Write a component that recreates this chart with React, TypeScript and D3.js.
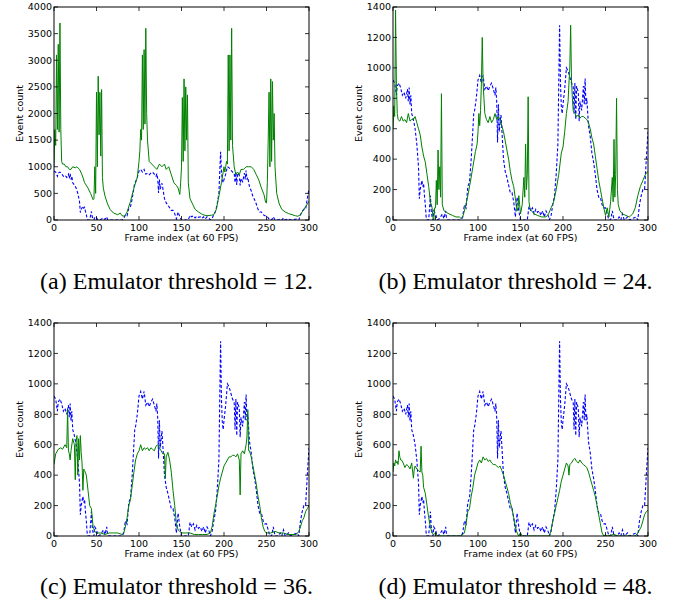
import React from "react";
import * as d3 from "d3";

type Pt = [number, number];

// reference (blue dashed) event counts per frame, shared by every panel
const referenceCounts: Pt[] = [
  [0, 920], [2, 900], [4, 820], [5, 880], [7, 900], [9, 870], [11, 820], [13, 840], [15, 800],
  [17, 860], [18, 780], [19, 870], [20, 760], [21, 820], [22, 700], [24, 660], [26, 600], [28, 500],
  [30, 350], [31, 140], [32, 200], [34, 260], [35, 220], [36, 240], [37, 160], [38, 100], [39, 20],
  [40, 0], [42, 0], [44, 160], [45, 60], [46, 20], [47, 0], [48, 60], [50, 40], [52, 0], [55, 10],
  [58, 40], [60, 10], [62, 60], [63, 10], [65, 0], [70, 0], [75, 0], [80, 0], [82, 20], [84, 100],
  [86, 80], [88, 220], [90, 250], [92, 400], [94, 600], [95, 700], [96, 720], [98, 800], [100, 920],
  [102, 950], [104, 900], [106, 950], [108, 860], [110, 880], [112, 850], [114, 880], [116, 900],
  [118, 860], [120, 820], [121, 870], [122, 780], [123, 510], [124, 760], [125, 580], [127, 690],
  [128, 600], [130, 400], [132, 320], [134, 280], [136, 230], [138, 180], [140, 180], [142, 120],
  [144, 20], [146, 150], [148, 60], [150, 0], [155, 0], [158, 0], [160, 90], [162, 60], [164, 80],
  [166, 40], [168, 70], [170, 50], [172, 60], [174, 30], [176, 60], [178, 20], [180, 60], [182, 40],
  [184, 0], [186, 30], [188, 100], [190, 160], [192, 300], [194, 500], [195, 900], [196, 1280],
  [197, 900], [198, 750], [199, 700], [200, 760], [202, 860], [204, 1000], [206, 980], [208, 940],
  [210, 900], [212, 880], [213, 700], [214, 900], [215, 660], [216, 880], [218, 840], [219, 650],
  [220, 780], [222, 720], [224, 880], [225, 760], [226, 930], [227, 760], [228, 800], [230, 620],
  [232, 550], [234, 440], [236, 380], [238, 300], [240, 200], [242, 150], [244, 150], [246, 100],
  [248, 80], [250, 80], [252, 40], [254, 0], [256, 0], [258, 60], [260, 0], [264, 0], [266, 20],
  [268, 0], [270, 40], [272, 0], [276, 20], [278, 0], [286, 20], [288, 0], [290, 100], [292, 160],
  [294, 200], [296, 200], [298, 400], [300, 580],
];

// emulator output (green), threshold = 12
const emulated12: Pt[] = [
  [0, 1000], [1, 1700], [2, 1400], [3, 3100], [4, 1700], [5, 3300], [6, 1650], [7, 3700], [8, 1700],
  [9, 1100], [10, 1050], [12, 1050], [14, 1000], [16, 1000], [18, 950], [20, 950], [22, 1000],
  [25, 980], [27, 1000], [30, 950], [33, 850], [36, 700], [40, 600], [43, 500], [46, 380], [47, 400],
  [48, 1000], [49, 500], [50, 2400], [51, 1000], [52, 2700], [53, 1600], [54, 2400], [55, 1200],
  [56, 2450], [57, 800], [58, 600], [60, 450], [63, 300], [66, 200], [70, 130], [75, 100], [78, 130],
  [80, 80], [83, 70], [86, 150], [90, 350], [94, 600], [98, 800], [100, 1100], [101, 1300],
  [102, 1700], [103, 1500], [104, 3100], [105, 1700], [106, 3200], [107, 1800], [108, 3600],
  [109, 2000], [110, 1500], [112, 1100], [115, 1050], [118, 1000], [121, 950], [124, 1050],
  [127, 1000], [130, 1050], [132, 950], [135, 1000], [138, 850], [141, 700], [144, 650], [146, 600],
  [148, 480], [149, 700], [150, 1000], [151, 2300], [152, 1100], [153, 2650], [154, 1300],
  [155, 2500], [156, 1500], [157, 2350], [158, 700], [160, 400], [163, 300], [166, 200], [170, 150],
  [175, 100], [180, 80], [185, 90], [188, 100], [191, 200], [194, 450], [197, 700], [199, 900],
  [200, 1000], [201, 900], [202, 1000], [203, 1100], [204, 1050], [205, 3100], [206, 1300],
  [207, 3100], [208, 1500], [209, 3600], [210, 1400], [212, 1000], [214, 850], [216, 900], [218, 850],
  [220, 950], [223, 950], [226, 1000], [229, 1000], [232, 1000], [235, 950], [238, 850], [241, 750],
  [244, 600], [247, 480], [249, 330], [250, 320], [251, 700], [252, 1500], [253, 2400], [254, 1000],
  [255, 2650], [256, 1100], [257, 2600], [258, 1500], [259, 2000], [260, 1000], [262, 500],
  [265, 300], [268, 200], [272, 150], [276, 120], [280, 100], [284, 80], [287, 70], [290, 100],
  [293, 180], [296, 250], [300, 350],
];

// threshold = 24
const emulated24: Pt[] = [
  [0, 600], [1, 750], [2, 680], [3, 1380], [4, 900], [5, 700], [6, 660], [8, 650], [10, 680],
  [12, 650], [14, 660], [16, 640], [18, 700], [20, 650], [22, 660], [24, 660], [26, 680], [28, 640],
  [30, 600], [32, 560], [34, 480], [36, 420], [38, 380], [40, 300], [42, 220], [44, 120], [46, 80],
  [47, 20], [48, 0], [49, 80], [50, 80], [51, 260], [52, 100], [53, 460], [54, 200], [55, 350],
  [56, 150], [57, 830], [58, 100], [60, 60], [63, 50], [66, 40], [70, 30], [74, 20], [78, 20],
  [80, 10], [82, 20], [85, 80], [88, 160], [91, 250], [94, 350], [97, 450], [99, 500], [100, 580],
  [101, 700], [102, 620], [103, 720], [104, 900], [105, 1200], [106, 900], [107, 800], [108, 700],
  [110, 660], [112, 640], [114, 680], [116, 640], [118, 660], [120, 700], [122, 660], [124, 680],
  [126, 660], [128, 620], [130, 580], [132, 520], [134, 460], [136, 400], [138, 320], [140, 260],
  [142, 220], [144, 140], [146, 60], [147, 80], [148, 160], [149, 100], [150, 40], [152, 100],
  [154, 280], [155, 150], [156, 500], [157, 200], [158, 300], [159, 810], [160, 120], [161, 80],
  [163, 60], [166, 40], [170, 30], [175, 20], [180, 20], [183, 40], [186, 80], [189, 120], [192, 200],
  [195, 300], [198, 440], [200, 480], [202, 580], [204, 700], [206, 780], [207, 900], [208, 1000],
  [209, 1280], [210, 920], [211, 800], [212, 720], [214, 700], [216, 680], [218, 690], [220, 670],
  [222, 680], [224, 680], [226, 670], [228, 660], [230, 640], [232, 600], [234, 540], [236, 500],
  [238, 420], [240, 340], [242, 260], [244, 200], [246, 140], [248, 80], [250, 30], [252, 80],
  [254, 20], [256, 120], [258, 280], [259, 120], [260, 530], [261, 150], [262, 300], [263, 800],
  [264, 200], [265, 100], [267, 60], [270, 40], [274, 30], [278, 20], [282, 40], [285, 80], [288, 160],
  [291, 220], [294, 260], [297, 300], [300, 320],
];

// threshold = 36
const emulated36: Pt[] = [
  [0, 470], [2, 540], [5, 570], [8, 580], [10, 570], [13, 600], [15, 580], [16, 830], [17, 560],
  [18, 540], [19, 500], [20, 560], [22, 640], [24, 600], [25, 370], [26, 620], [27, 660], [28, 400],
  [29, 640], [30, 500], [31, 660], [32, 550], [33, 480], [34, 300], [35, 440], [36, 430], [38, 400],
  [40, 300], [42, 200], [44, 180], [46, 60], [48, 30], [50, 20], [55, 20], [60, 10], [65, 20],
  [70, 20], [75, 20], [80, 10], [82, 20], [84, 60], [86, 120], [88, 200], [90, 240], [92, 330],
  [94, 420], [96, 500], [98, 540], [100, 560], [102, 600], [104, 560], [106, 580], [108, 570],
  [110, 580], [112, 560], [114, 580], [116, 570], [118, 560], [120, 590], [122, 600], [124, 580],
  [126, 560], [128, 540], [130, 540], [131, 380], [132, 520], [134, 550], [136, 500], [138, 420],
  [140, 300], [142, 200], [144, 80], [146, 40], [148, 30], [150, 20], [155, 20], [160, 20],
  [165, 10], [170, 10], [175, 10], [180, 10], [184, 20], [186, 60], [188, 140], [190, 200],
  [192, 260], [194, 330], [196, 380], [198, 420], [200, 460], [202, 480], [204, 500], [206, 520],
  [208, 520], [210, 530], [212, 530], [214, 520], [216, 540], [218, 500], [219, 270], [220, 540],
  [222, 560], [224, 540], [226, 600], [227, 650], [228, 830], [229, 560], [230, 560], [232, 520],
  [234, 460], [236, 400], [238, 340], [240, 260], [242, 200], [244, 120], [246, 60], [248, 30],
  [250, 20], [255, 20], [260, 30], [265, 20], [270, 20], [275, 10], [280, 10], [285, 10], [288, 30],
  [290, 60], [292, 100], [294, 120], [296, 160], [298, 180], [300, 200],
];

// threshold = 48
const emulated48: Pt[] = [
  [0, 420], [1, 480], [2, 460], [3, 500], [4, 480], [5, 490], [6, 470], [7, 560], [8, 520], [9, 500],
  [10, 500], [12, 480], [14, 450], [16, 470], [18, 460], [20, 440], [22, 480], [24, 380], [25, 440],
  [26, 460], [28, 440], [30, 430], [32, 420], [33, 590], [34, 420], [35, 400], [36, 320], [38, 280],
  [40, 200], [42, 120], [44, 60], [46, 20], [48, 10], [50, 20], [52, 0], [60, 0], [70, 0], [80, 0],
  [84, 20], [86, 80], [88, 160], [90, 180], [92, 260], [94, 320], [96, 400], [98, 440], [100, 480],
  [102, 500], [104, 480], [106, 520], [108, 500], [110, 510], [112, 490], [114, 500], [116, 480],
  [118, 470], [120, 470], [122, 460], [124, 450], [126, 460], [128, 430], [130, 400], [132, 360],
  [134, 320], [136, 280], [138, 220], [140, 180], [142, 120], [144, 60], [146, 20], [148, 0],
  [150, 20], [152, 0], [160, 0], [170, 0], [180, 0], [184, 0], [186, 40], [188, 100], [190, 150],
  [192, 200], [194, 250], [196, 300], [198, 360], [200, 400], [202, 440], [204, 480], [206, 460],
  [207, 400], [208, 470], [210, 480], [212, 500], [214, 510], [216, 490], [218, 480], [220, 500],
  [222, 480], [224, 470], [226, 460], [228, 450], [230, 420], [232, 380], [234, 340], [236, 300],
  [238, 260], [240, 200], [242, 140], [244, 80], [246, 20], [248, 0], [250, 10], [252, 0],
  [260, 10], [265, 0], [285, 0], [288, 20], [290, 40], [292, 60], [294, 100], [296, 140],
  [298, 160], [300, 170],
];

const thresholds = [12, 24, 36, 48];
const panelLetters = ["a", "b", "c", "d"];
const yMaxes = [4000, 1400, 1400, 1400];
const ySteps = [500, 200, 200, 200];
const emulatedSeries = [emulated12, emulated24, emulated36, emulated48];

const W = 675;
const H = 613;
const PW = 255;
const PH = 213;
const lefts = [54, 393, 54, 393];
const tops = [7, 7, 323, 323];
const captionY = [289, 289, 594, 594];

const tickFont = "DejaVu Sans, sans-serif";
const captionStyle = {
  fontFamily: '"Liberation Serif", "Times New Roman", Times, "DejaVu Serif", serif',
  fontSize: "24px",
};

function Panel({ i }: { i: number }) {
  const x = d3.scaleLinear().domain([0, 300]).range([0, PW]);
  const y = d3.scaleLinear().domain([0, yMaxes[i]]).range([PH, 0]);
  const line = d3
    .line<Pt>()
    .x((d) => x(d[0]))
    .y((d) => y(d[1]));
  const xTicks = d3.range(0, 301, 50);
  const yTicks = d3.range(0, yMaxes[i] + 1, ySteps[i]);
  const clipId = "clip-" + panelLetters[i];
  const tl = 4;

  return (
    <g transform={`translate(${lefts[i]},${tops[i]})`}>
      <defs>
        <clipPath id={clipId}>
          <rect x={0} y={0} width={PW} height={PH} />
        </clipPath>
      </defs>
      <g clipPath={`url(#${clipId})`}>
        <path
          d={line(referenceCounts) || ""}
          fill="none"
          stroke="#0000ff"
          strokeWidth={1.1}
          strokeDasharray="3,2"
        />
        <path d={line(emulatedSeries[i]) || ""} fill="none" stroke="#008000" strokeWidth={1} />
      </g>
      <rect x={0} y={0} width={PW} height={PH} fill="none" stroke="#000" strokeWidth={1} />
      {xTicks.map((t) => (
        <g key={"x" + t}>
          <line x1={x(t)} x2={x(t)} y1={PH} y2={PH - tl} stroke="#000" strokeWidth={0.8} />
          <line x1={x(t)} x2={x(t)} y1={0} y2={tl} stroke="#000" strokeWidth={0.8} />
          <text
            x={x(t)}
            y={PH + 11}
            textAnchor="middle"
            fontFamily={tickFont}
            fontSize={9.5}
            fill="#000"
          >
            {t}
          </text>
        </g>
      ))}
      {yTicks.map((t) => (
        <g key={"y" + t}>
          <line x1={0} x2={tl} y1={y(t)} y2={y(t)} stroke="#000" strokeWidth={0.8} />
          <line x1={PW} x2={PW - tl} y1={y(t)} y2={y(t)} stroke="#000" strokeWidth={0.8} />
          <text
            x={-2}
            y={y(t)}
            dy="0.35em"
            textAnchor="end"
            fontFamily={tickFont}
            fontSize={9.5}
            fill="#000"
          >
            {t}
          </text>
        </g>
      ))}
      <text
        x={PW / 2}
        y={PH + 21}
        textAnchor="middle"
        fontFamily={tickFont}
        fontSize={9.5}
        fill="#000"
      >
        Frame index (at 60 FPS)
      </text>
      <text
        transform={`translate(-31,${PH / 2}) rotate(-90)`}
        textAnchor="middle"
        fontFamily={tickFont}
        fontSize={9.5}
        fill="#000"
      >
        Event count
      </text>
      <text
        x={PW / 2 - 5}
        y={captionY[i] - tops[i]}
        textAnchor="middle"
        style={captionStyle}
        fill="#000"
      >
        {`(${panelLetters[i]}) Emulator threshold = ${thresholds[i]}.`}
      </text>
    </g>
  );
}

export default function App() {
  return (
    <svg
      width={W}
      height={H}
      style={{ position: "absolute", left: 0, top: 0, background: "#fff" }}
    >
      <rect width={W} height={H} fill="#fff" />
      {[0, 1, 2, 3].map((i) => (
        <Panel key={i} i={i} />
      ))}
    </svg>
  );
}
